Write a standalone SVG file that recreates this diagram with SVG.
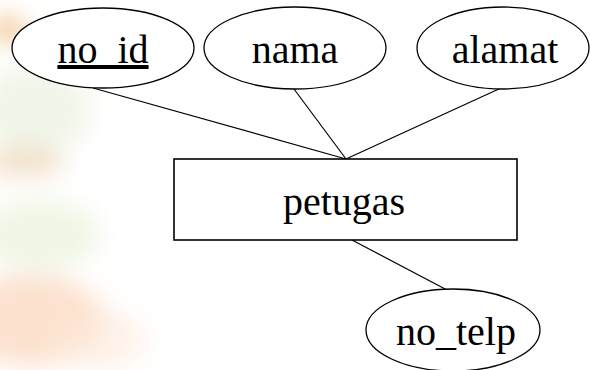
<svg xmlns="http://www.w3.org/2000/svg" width="590" height="370" viewBox="0 0 590 370">
  <defs>
    <filter id="soft" x="-50%" y="-50%" width="200%" height="200%">
      <feGaussianBlur stdDeviation="12"/>
    </filter>
    <style>
      .attr { fill: #ffffff; stroke: #000000; stroke-width: 1.3; }
      .ent { fill: #ffffff; stroke: #000000; stroke-width: 1.6; }
      .lbl { font-family: "Liberation Serif", "Times New Roman", serif; font-size: 40px; fill: #000000; text-anchor: middle; }
      .edge { stroke: #000000; stroke-width: 1.2; fill: none; }
    </style>
  </defs>

  <!-- page background with soft painted wash along the left side -->
  <rect width="590" height="370" fill="#ffffff"/>
  <g filter="url(#soft)">
    <ellipse cx="8" cy="30" rx="18" ry="12" fill="#eebd80" opacity="0.9"/>
    <ellipse cx="35" cy="110" rx="55" ry="45" fill="#f0f4e6" opacity="0.9"/>
    <ellipse cx="25" cy="162" rx="40" ry="14" fill="#f1dcc2" opacity="0.9"/>
    <ellipse cx="40" cy="235" rx="60" ry="35" fill="#eef5e2" opacity="0.9"/>
    <ellipse cx="30" cy="320" rx="75" ry="45" fill="#fbdcc6" opacity="0.85"/>
    <ellipse cx="100" cy="340" rx="45" ry="30" fill="#fde9da" opacity="0.6"/>
  </g>

  <!-- connectors -->
  <g id="connectors">
    <line class="edge" x1="93" y1="88" x2="346" y2="159"/>
    <line class="edge" x1="294" y1="89" x2="346" y2="159"/>
    <line class="edge" x1="501" y1="88" x2="346" y2="159"/>
    <line class="edge" x1="352" y1="240" x2="447" y2="290"/>
  </g>

  <g id="no_id">
    <ellipse class="attr" cx="103" cy="48" rx="91" ry="40"/>
    <text class="lbl" x="103" y="63" text-decoration="underline">no_id</text>
  </g>

  <g id="nama">
    <ellipse class="attr" cx="295" cy="48" rx="91" ry="41"/>
    <text class="lbl" x="295" y="63">nama</text>
  </g>

  <g id="alamat">
    <ellipse class="attr" cx="503" cy="48" rx="86" ry="41"/>
    <text class="lbl" x="505" y="63">alamat</text>
  </g>

  <g id="petugas">
    <rect class="ent" x="174" y="159" width="343" height="81"/>
    <text class="lbl" x="344" y="215">petugas</text>
  </g>

  <g id="no_telp">
    <ellipse class="attr" cx="453" cy="330" rx="87" ry="41"/>
    <text class="lbl" x="456" y="345">no_telp</text>
  </g>
</svg>
